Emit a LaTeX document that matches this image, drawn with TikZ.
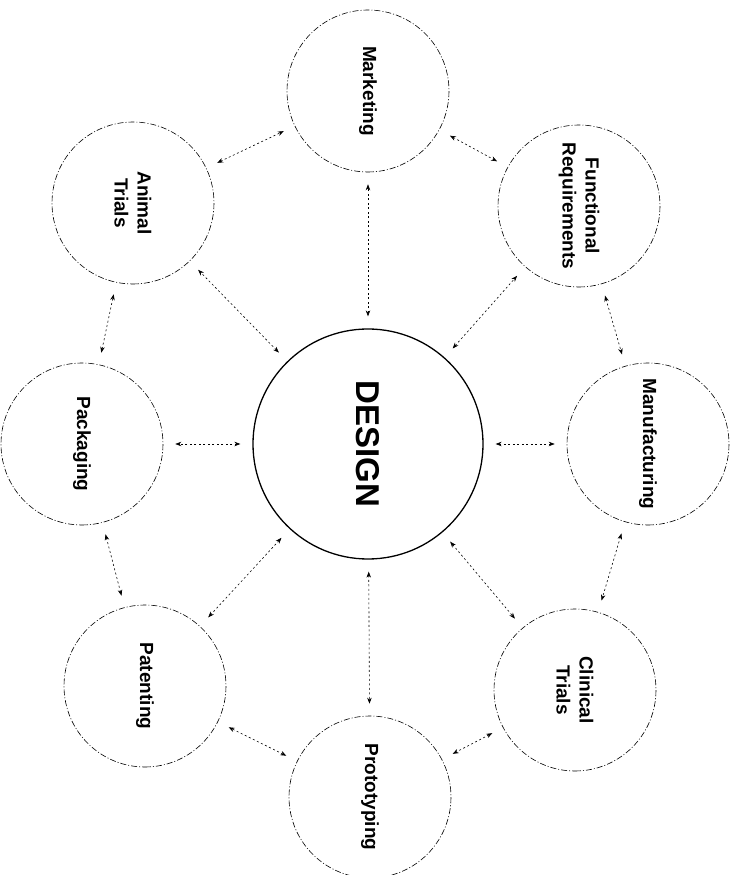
\documentclass[tikz,border=0pt]{standalone}
\usepackage{fontspec}
\setmainfont{Liberation Sans}
\usetikzlibrary{arrows.meta, calc, positioning}

\begin{document}
\begin{tikzpicture}[
    hub/.style={
        circle, draw=black, line width=1.3pt, minimum size=230pt, inner sep=0pt,
        font=\fontsize{33}{38}\selectfont\bfseries, rotate=-90
    },
    area/.style={
        circle, draw=black, line width=0.6pt, dash pattern=on 6pt off 2pt on 1pt off 2pt,
        minimum size=162pt, inner sep=0pt, align=center,
        font=\fontsize{19}{23}\selectfont\bfseries, rotate=-90
    },
    link/.style={{Stealth[length=6pt,width=4.5pt]}-{Stealth[length=6pt,width=4.5pt]},
        line width=0.6pt, dash pattern=on 2pt off 2.5pt,
        shorten >=12pt, shorten <=12pt},
]

\useasboundingbox (-368pt,-431pt) rectangle (373pt,444pt);

% Hub
\node[hub] (design) at (0,0) {DESIGN};

% Ring of activities
\node[area] (market) at ($(design.center)+(0pt,353pt)$)     {Marketing};
\node[area] (func)   at ($(design.center)+(211pt,238pt)$)   {Functional\\Requirements};
\node[area] (manuf)  at ($(design.center)+(280pt,0pt)$)     {Manufacturing};
\node[area] (clinic) at ($(design.center)+(207pt,-246pt)$)  {Clinical\\Trials};
\node[area] (proto)  at ($(design.center)+(2pt,-353pt)$)    {Prototyping};
\node[area] (patent) at ($(design.center)+(-223pt,-242pt)$) {Patenting};
\node[area] (pack)   at ($(design.center)+(-286pt,0pt)$)    {Packaging};
\node[area] (animal) at ($(design.center)+(-235pt,241pt)$)  {Animal\\Trials};

% Spokes
\draw[link] (design) -- (market);
\draw[link] (design) -- (func);
\draw[link] (design) -- (manuf);
\draw[link] (design) -- (clinic);
\draw[link] (design) -- (proto);
\draw[link] (design) -- (patent);
\draw[link] (design) -- (pack);
\draw[link] (design) -- (animal);

% Ring links
\draw[link] (market) -- (func);
\draw[link] (func) -- (manuf);
\draw[link] (manuf) -- (clinic);
\draw[link] (clinic) -- (proto);
\draw[link] (proto) -- (patent);
\draw[link] (patent) -- (pack);
\draw[link] (pack) -- (animal);
\draw[link] (animal) -- (market);

\end{tikzpicture}
\end{document}
